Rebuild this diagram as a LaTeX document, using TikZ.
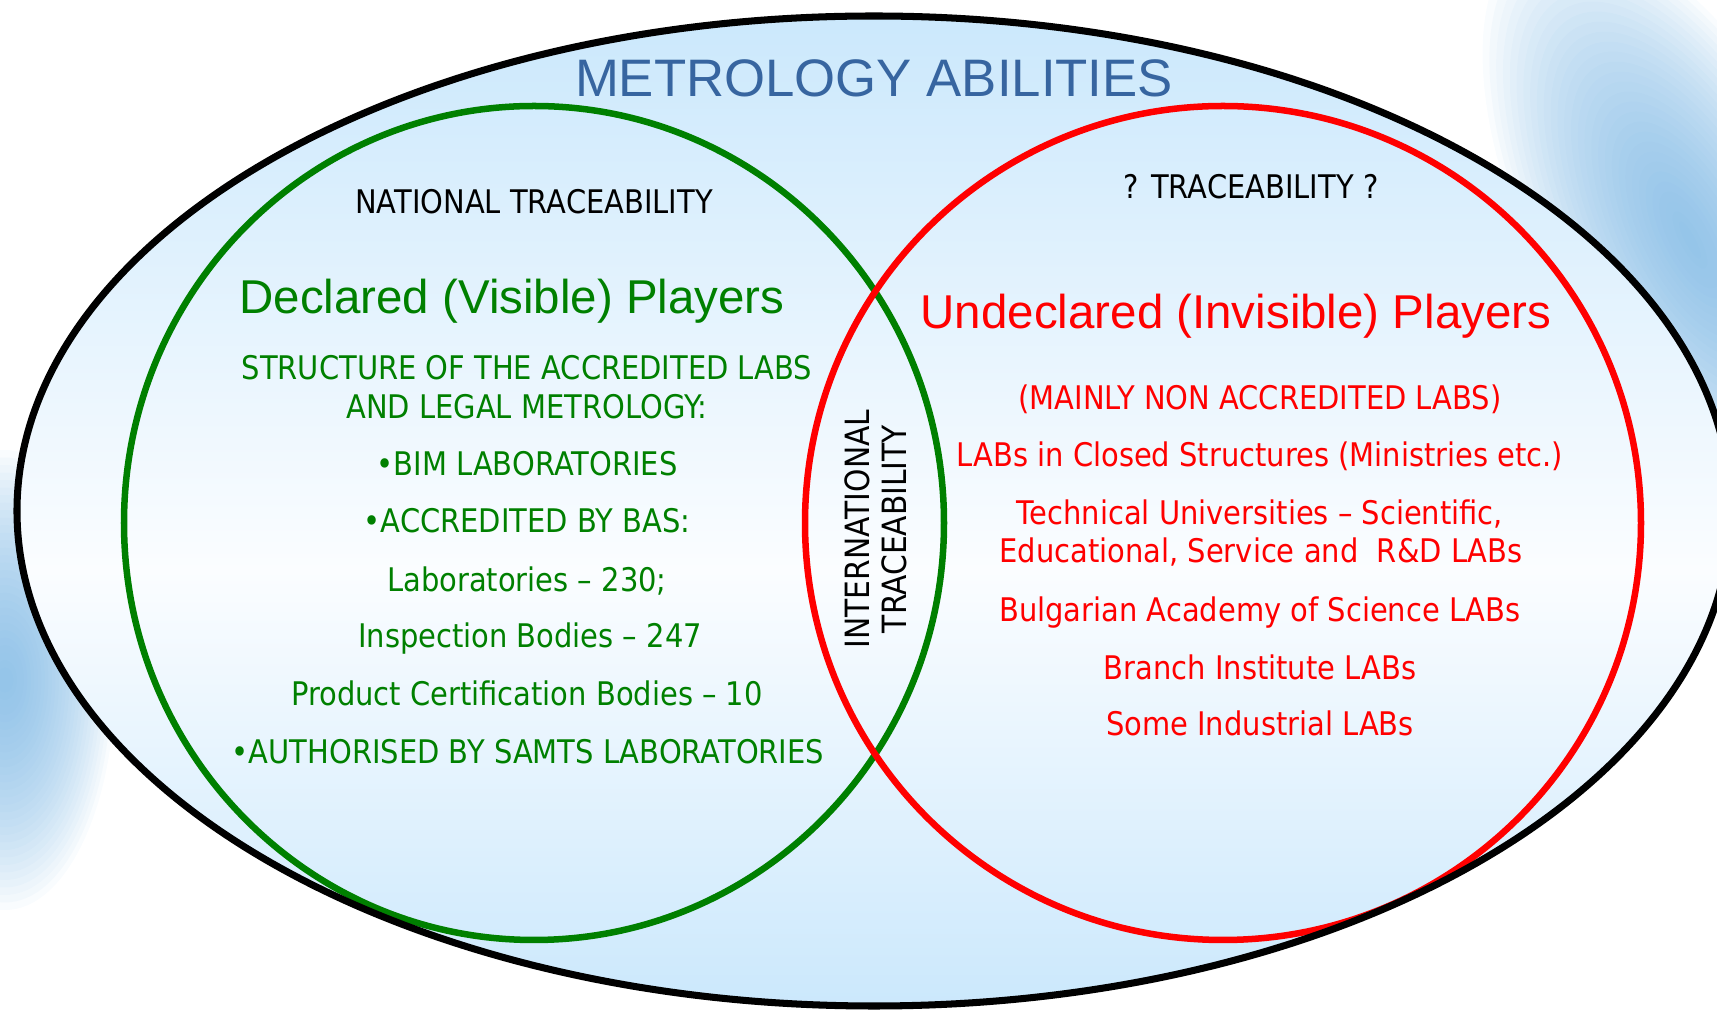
\documentclass[tikz,border=0pt]{standalone}
\usepackage{fontspec}
\setmainfont{DejaVu Sans}[FakeStretch=0.89]
\newfontfamily\arialfont{Liberation Sans}

\definecolor{titleblue}{RGB}{55,101,160}
\definecolor{vgreen}{RGB}{0,128,0}
\definecolor{vred}{RGB}{255,0,0}
\definecolor{bgblue}{RGB}{203,232,252}
\definecolor{bgwhite}{RGB}{251,253,255}
\definecolor{blobblue}{RGB}{110,175,225}

\pgfdeclareverticalshading{skyfade}{100bp}{color(0bp)=(bgblue); color(25bp)=(bgblue); color(47bp)=(bgwhite); color(75bp)=(bgblue); color(100bp)=(bgblue)}

\begin{document}
\begin{tikzpicture}[x=0.01cm, y=-0.01cm,
    ring/.style={line width=1.85pt},
    bodytxt/.style={anchor=base, font=\fontsize{9.25}{11}\selectfont},
    greentxt/.style={bodytxt, text=vgreen},
    redtxt/.style={bodytxt, text=vred},
    playertxt/.style={anchor=base, font=\arialfont\fontsize{13.5}{16}\selectfont}]

            % 画布大小
            \useasboundingbox (0,0) rectangle (1717,1013);
            \clip (0,0) rectangle (1717,1013);

            % 外面的模糊蓝色
            \foreach \k in {0,...,29} {
                \fill[blobblue, opacity=0.045, rotate around={-62:(1690,240)}]
                    (1690,240) ellipse [x radius={340-\k*11}, y radius={150-\k*5}];
                \fill[blobblue, opacity=0.045]
                    (5,680) ellipse [x radius={110-\k*3.5}, y radius={230-\k*7.5}];
            }

            % 大椭圆底色
            \shade[shading=skyfade] (874,511) ellipse [x radius=857, y radius=495];

            % 两个圆
            \draw[ring, vgreen] (534,523) ellipse [x radius=410, y radius=417];
            \draw[ring, vred] (1223,523) ellipse [x radius=418, y radius=417];

            % 外框
            \draw[line width=2pt] (874,511) ellipse [x radius=857, y radius=495];

            % 标题
            \node[anchor=base, text=titleblue, font=\arialfont\fontsize{15}{17}\selectfont] (title) at (874,97) {METROLOGY ABILITIES};
            \node[bodytxt] (natl) at (534,214) {NATIONAL TRACEABILITY};
            \node[bodytxt] (unkn) at (1251,199) {? TRACEABILITY ?};
            \node[playertxt, text=vgreen] (declared) at (512,314) {Declared (Visible) Players};
            \node[playertxt, text=vred] (undeclared) at (1236,329) {Undeclared (Invisible) Players};

            % 左边的列表
            \node[greentxt] (dl1) at (527,380) {STRUCTURE OF THE ACCREDITED LABS};
            \node[greentxt] (dl2) at (527,419) {AND LEGAL METROLOGY:};
            \node[greentxt] (dl3) at (527,476) {•BIM LABORATORIES};
            \node[greentxt] (dl4) at (527,533) {•ACCREDITED BY BAS:};
            \node[greentxt] (dl5) at (527,592) {Laboratories – 230;};
            \node[greentxt] (dl6) at (530,648) {Inspection Bodies – 247};
            \node[greentxt] (dl7) at (527,706) {Product Certification Bodies – 10};
            \node[greentxt] (dl8) at (528,764) {•AUTHORISED BY SAMTS LABORATORIES};

            % 右边的列表
            \node[redtxt] (ul1) at (1260,410) {(MAINLY NON ACCREDITED LABS)};
            \node[redtxt] (ul2) at (1260,467) {LABs in Closed Structures (Ministries etc.)};
            \node[redtxt] (ul3) at (1260,525) {Technical Universities – Scientific,};
            \node[redtxt] (ul4) at (1261,563) {Educational, Service and\ \ R\&D LABs};
            \node[redtxt] (ul5) at (1260,622) {Bulgarian Academy of Science LABs};
            \node[redtxt] (ul6) at (1260,680) {Branch Institute LABs};
            \node[redtxt] (ul7) at (1260,736) {Some Industrial LABs};

            % 中间竖排
            \node[rotate=90, align=center, font=\fontsize{9.5}{10.5}\selectfont] (intl) at (876,529) {INTERNATIONAL\\TRACEABILITY};

        \end{tikzpicture}
\end{document}
